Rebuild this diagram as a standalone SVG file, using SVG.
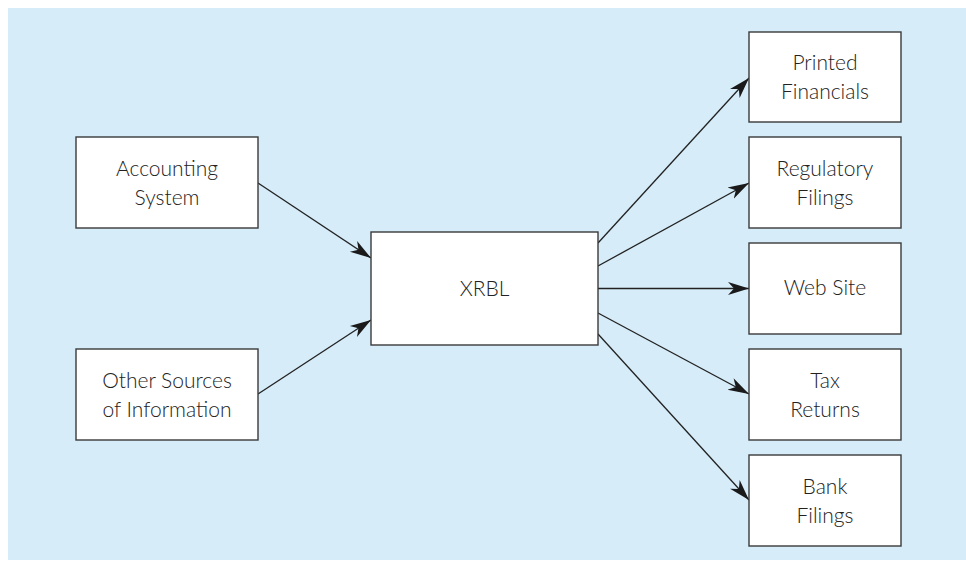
<svg xmlns="http://www.w3.org/2000/svg" width="966" height="562" viewBox="0 0 966 562">
<style>
.box{fill:#fff;stroke:#3a3a3a;stroke-width:1.4}
.t{font-family:Lato,"Open Sans","Liberation Sans",sans-serif;font-weight:300;font-size:21px;fill:#222;text-anchor:middle}
.c{stroke:#222;stroke-width:1.3;fill:none;marker-end:url(#ah)}
</style>
<defs>
<marker id="ah" markerUnits="userSpaceOnUse" markerWidth="22" markerHeight="16" viewBox="0 0 22 16" refX="21" refY="8" orient="auto">
<path d="M0,1.5 L21,8 L0,14.5 L6,8 z" fill="#1a1a1a"/>
</marker>
</defs>
<rect x="8" y="8" width="958" height="552" fill="#d6ecf9"/>
<g id="connectors">
<line class="c" x1="258" y1="183" x2="371" y2="258"/>
<line class="c" x1="258" y1="394" x2="371" y2="320"/>
<line class="c" x1="598" y1="243" x2="749" y2="78"/>
<line class="c" x1="598" y1="266" x2="749" y2="183"/>
<line class="c" x1="598" y1="288.5" x2="749" y2="288.5"/>
<line class="c" x1="598" y1="313" x2="749" y2="394"/>
<line class="c" x1="598" y1="334" x2="749" y2="500"/>
</g>
<g id="accounting">
<rect class="box" x="76" y="137" width="182" height="91"/>
<text class="t" x="167" y="176">Accounting</text>
<text class="t" x="167" y="205">System</text>
</g>
<g id="other">
<rect class="box" x="76" y="349" width="182" height="91"/>
<text class="t" x="167" y="388">Other Sources</text>
<text class="t" x="167" y="417">of Information</text>
</g>
<g id="xrbl">
<rect class="box" x="371" y="232" width="227" height="113"/>
<text class="t" x="484.5" y="296">XRBL</text>
</g>
<g id="printed">
<rect class="box" x="749" y="32" width="152" height="90"/>
<text class="t" x="825" y="70">Printed</text>
<text class="t" x="825" y="99">Financials</text>
</g>
<g id="regulatory">
<rect class="box" x="749" y="137" width="152" height="91"/>
<text class="t" x="825" y="176">Regulatory</text>
<text class="t" x="825" y="205">Filings</text>
</g>
<g id="website">
<rect class="box" x="749" y="243" width="152" height="91"/>
<text class="t" x="825" y="295">Web Site</text>
</g>
<g id="tax">
<rect class="box" x="749" y="349" width="152" height="91"/>
<text class="t" x="825" y="388">Tax</text>
<text class="t" x="825" y="417">Returns</text>
</g>
<g id="bank">
<rect class="box" x="749" y="455" width="152" height="91"/>
<text class="t" x="825" y="494">Bank</text>
<text class="t" x="825" y="523">Filings</text>
</g>
</svg>
